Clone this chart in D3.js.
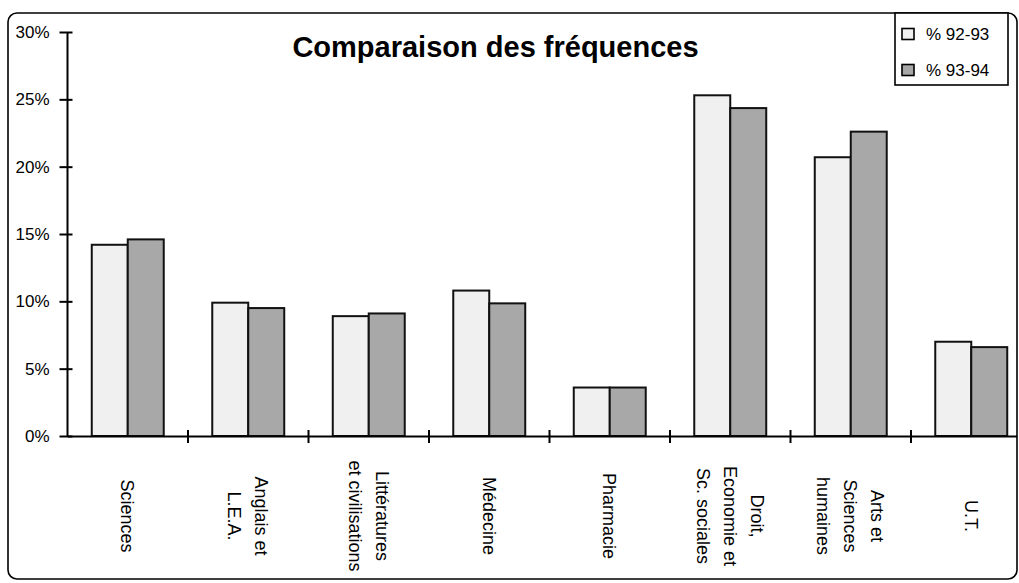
<!DOCTYPE html>
<html>
<head>
<meta charset="utf-8">
<script src="https://cdn.jsdelivr.net/npm/d3@7"></script>
<style>
  html, body { margin: 0; padding: 0; background: #fff; }
  svg { display: block; font-family: "Liberation Sans", Arial, sans-serif; }
</style>
</head>
<body>
<svg id="chart" width="1019" height="583"></svg>
<script>
// Categories (line breaks shown with \n)
const categories = [
  "Sciences",
  "Anglais et\nL.E.A.",
  "Littératures\net civilisations",
  "Médecine",
  "Pharmacie",
  "Droit,\nEconomie et\nSc. sociales",
  "Arts et\nSciences\nhumaines",
  "U.T."
];
const seriesNames = ["% 92-93", "% 93-94"];
const values9293 = [14.2, 9.9, 8.9, 10.8, 3.6, 25.3, 20.7, 7.0];
const values9394 = [14.6, 9.5, 9.1, 9.85, 3.6, 24.35, 22.6, 6.6];
const yTicks = [0, 5, 10, 15, 20, 25, 30];
const chartTitle = "Comparaison des fréquences";

const fills = ["#f0f0f0", "#a8a8a8"];
const seriesValues = [values9293, values9394];

const svg = d3.select("#chart");

// outer frame
const frame = { x: 8, y: 13, w: 1009, h: 566 };
svg.append("defs").append("clipPath").attr("id", "plotClip")
  .append("rect").attr("x", frame.x).attr("y", frame.y)
  .attr("width", frame.w).attr("height", frame.h);

svg.append("rect")
  .attr("x", frame.x).attr("y", frame.y)
  .attr("width", frame.w).attr("height", frame.h)
  .attr("rx", 9).attr("ry", 9)
  .attr("fill", "#fff").attr("stroke", "#000").attr("stroke-width", 1.6);

const x = d3.scaleBand().domain(categories).range([67.5, 1031.5]).padding(0);
const xInner = d3.scaleBand().domain([0, 1]).range([0, x.bandwidth()]).paddingInner(0).paddingOuter(0.674);
const y = d3.scaleLinear().domain([0, 30]).range([436, 32]);

const plot = svg.append("g").attr("clip-path", "url(#plotClip)");

// bars
const groups = plot.selectAll("g.cat").data(categories).join("g")
  .attr("class", "cat")
  .attr("transform", d => `translate(${x(d)},0)`);

groups.selectAll("rect").data((d, i) => seriesValues.map((vals, s) => ({ s, v: vals[i] })))
  .join("rect")
  .attr("x", d => xInner(d.s))
  .attr("width", xInner.bandwidth())
  .attr("y", d => y(d.v))
  .attr("height", d => y(0) - y(d.v))
  .attr("fill", d => fills[d.s])
  .attr("stroke", "#111").attr("stroke-width", 2);

// x axis line and boundary ticks
const xAxis = d3.axisBottom(x).tickSize(0).tickFormat("");
const xg = plot.append("g").attr("transform", `translate(0,${y(0)})`).call(xAxis);
xg.select(".domain").attr("stroke", "#000").attr("stroke-width", 2);
xg.selectAll(".tick").remove();
xg.selectAll("line.bound").data(categories.slice(1)).join("line")
  .attr("class", "bound")
  .attr("x1", d => x(d)).attr("x2", d => x(d))
  .attr("y1", -6).attr("y2", 7)
  .attr("stroke", "#000").attr("stroke-width", 2);

// y axis
const yAxis = d3.axisLeft(y).tickValues(yTicks).tickFormat(d => d + "%")
  .tickSize(8).tickPadding(10);
const yg = svg.append("g").attr("transform", `translate(${x.range()[0]},0)`).call(yAxis);
yg.select(".domain").attr("stroke", "#000").attr("stroke-width", 2).attr("d", `M0,${y(30)}V${y(0)}`);
yg.selectAll(".tick line").attr("x1", 5).attr("x2", -8).attr("stroke", "#000").attr("stroke-width", 2);
yg.selectAll(".tick text")
  .attr("font-size", 17).attr("fill", "#000")
  .attr("font-family", "'Liberation Sans', Arial, sans-serif");

// category labels, rotated to read downward
const labelCenterY = 516;
const lineGap = 27;
const labels = svg.append("g").selectAll("g.lab").data(categories).join("g")
  .attr("class", "lab")
  .attr("transform", d => `translate(${x(d) + x.bandwidth() / 2},${labelCenterY}) rotate(90)`);
labels.each(function (d) {
  const lines = d.split("\n");
  const n = lines.length;
  d3.select(this).selectAll("text").data(lines).join("text")
    .attr("x", 0)
    .attr("y", (l, k) => (k - (n - 1) / 2) * lineGap)
    .attr("dy", "0.35em")
    .attr("text-anchor", "middle")
    .attr("font-size", 18)
    .attr("fill", "#000")
    .text(l => l);
});

// title
svg.append("text")
  .attr("x", 495.5).attr("y", 57)
  .attr("text-anchor", "middle")
  .attr("font-size", 29).attr("font-weight", "bold")
  .attr("fill", "#000")
  .text(chartTitle);

// legend
const legend = svg.append("g");
legend.append("rect")
  .attr("x", 895).attr("y", 13).attr("width", 113).attr("height", 72)
  .attr("fill", "#fff").attr("stroke", "#000").attr("stroke-width", 1.6);
const items = legend.selectAll("g.item").data(seriesNames).join("g")
  .attr("class", "item")
  .attr("transform", (d, i) => `translate(902,${34 + i * 36})`);
items.append("rect")
  .attr("x", 0).attr("y", -5.5).attr("width", 12).attr("height", 11)
  .attr("fill", (d, i) => fills[i]).attr("stroke", "#000").attr("stroke-width", 1.6);
items.append("text")
  .attr("x", 24).attr("y", 0).attr("dy", "0.35em")
  .attr("font-size", 17).attr("fill", "#000")
  .text(d => d);
</script>
</body>
</html>
